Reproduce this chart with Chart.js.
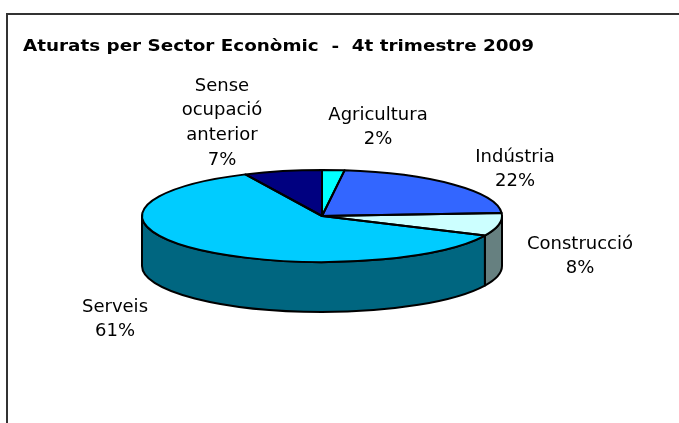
<!DOCTYPE html>
<html><head><meta charset="utf-8">
<script src="https://cdn.jsdelivr.net/npm/chart.js@4/dist/chart.umd.min.js"></script>
<style>html,body{margin:0;padding:0;background:#fff;overflow:hidden}#wrap{width:679px;height:423px;position:relative}</style>
</head><body><div id="wrap"><canvas id="c" width="679" height="423"></canvas></div>
<script>
const categories = ["Agricultura", "Indústria", "Construcció", "Serveis", "Sense ocupació anterior"];
const values = [2, 22, 8, 61, 7];
const labelLines = [["Agricultura"], ["Indústria"], ["Construcció"], ["Serveis"], ["Sense", "ocupació", "anterior"]];
const title = "Aturats per Sector Econòmic  -  4t trimestre 2009";

const topColors = ["#00FFFF", "#3366FF", "#CCFFFF", "#00CCFF", "#000080"];
const sideColors = ["#008080", "#1A3380", "#668080", "#006680", "#000040"];
const labelPos = [[378, 115], [515, 157], [580, 244], [115, 307], [222, 86]];

const CY = 216, RY = 46, DEPTH = 50;
const FONT = '18px "DejaVu Sans"';

function ept(cx, cy, rx, ry, a) { return [cx + rx * Math.cos(a), cy + ry * Math.sin(a)]; }

const pie3d = {
  id: 'pie3d',
  beforeDraw(chart) {
    const ctx = chart.ctx;
    ctx.save();
    ctx.fillStyle = '#fff';
    ctx.fillRect(0, 0, chart.width, chart.height);
    ctx.strokeStyle = '#333';
    ctx.lineWidth = 2;
    ctx.strokeRect(7, 14, 720, 440);
    ctx.fillStyle = '#000';
    ctx.font = 'bold 16px "DejaVu Sans"';
    ctx.textBaseline = 'alphabetic';
    ctx.textAlign = 'left';
    const w = ctx.measureText(title).width;
    const target = 511;
    ctx.translate(23, 51);
    ctx.scale(target / w, 1);
    ctx.fillText(title, 0, 0);
    ctx.restore();
  },
  beforeDatasetsDraw(chart) {
    const ctx = chart.ctx;
    const arcs = chart.getDatasetMeta(0).data;
    const el0 = arcs[0];
    const cx = el0.x, rx = el0.outerRadius;
    ctx.save();
    arcs.forEach((el, i) => {
      const s = el.startAngle, e = el.endAngle;
      const twoPi = Math.PI * 2;
      const segs = [];
      for (let k = -1; k <= 1; k++) {
        const a1 = Math.max(s + k * twoPi, 0), a2 = Math.min(e + k * twoPi, Math.PI);
        if (a2 > a1) segs.push([a1, a2]);
      }
      segs.forEach(([a1, a2]) => {
        ctx.beginPath();
        ctx.ellipse(cx, CY, rx, RY, 0, a1, a2, false);
        ctx.ellipse(cx, CY + DEPTH, rx, RY, 0, a2, a1, true);
        ctx.closePath();
        ctx.fillStyle = sideColors[i];
        ctx.fill();
        ctx.lineWidth = 2;
        ctx.strokeStyle = '#000';
        ctx.lineJoin = 'round';
        ctx.stroke();
      });
    });
    ctx.restore();
    ctx.save();
    ctx.translate(cx, CY);
    ctx.scale(1, RY / rx);
    ctx.translate(-cx, -el0.y);
  },
  afterDatasetsDraw(chart) {
    const ctx = chart.ctx;
    ctx.restore();
    const arcs = chart.getDatasetMeta(0).data;
    const cx = arcs[0].x, rx = arcs[0].outerRadius;
    ctx.save();
    ctx.strokeStyle = '#000';
    ctx.lineWidth = 2;
    ctx.lineJoin = 'round';
    arcs.forEach((el) => {
      ctx.beginPath();
      ctx.moveTo(cx, CY);
      const p = ept(cx, CY, rx, RY, el.startAngle);
      ctx.lineTo(p[0], p[1]);
      ctx.ellipse(cx, CY, rx, RY, 0, el.startAngle, el.endAngle, false);
      ctx.closePath();
      ctx.stroke();
    });
    const total = values.reduce((a, b) => a + b, 0);
    ctx.fillStyle = '#000';
    ctx.font = FONT;
    ctx.textAlign = 'center';
    ctx.textBaseline = 'middle';
    labelLines.forEach((lines, i) => {
      const [x, y] = labelPos[i];
      const all = lines.concat([Math.round(values[i] / total * 100) + '%']);
      all.forEach((t, j) => ctx.fillText(t, x, y + j * 24.7));
    });
    ctx.restore();
  }
};

new Chart(document.getElementById('c'), {
  type: 'pie',
  data: {
    labels: categories,
    datasets: [{
      data: values,
      backgroundColor: topColors,
      borderWidth: 0,
      hoverOffset: 0,
      offset: 0
    }]
  },
  options: {
    responsive: false,
    animation: false,
    events: [],
    layout: { padding: { left: 142, right: 177, top: 31, bottom: 32 } },
    plugins: { legend: { display: false }, tooltip: { enabled: false }, title: { display: false } }
  },
  plugins: [pie3d]
});
</script></body></html>
